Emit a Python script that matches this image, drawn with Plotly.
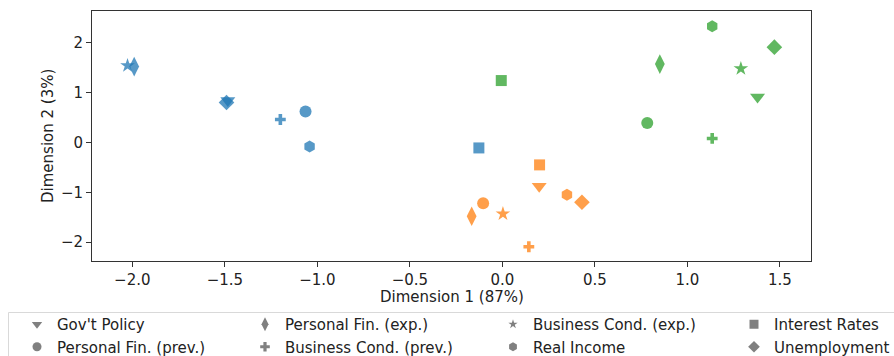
import plotly.graph_objects as go

# Survey item labels and their marker shapes
labels = ["Gov't Policy", "Personal Fin. (prev.)", "Personal Fin. (exp.)",
          "Business Cond. (prev.)", "Business Cond. (exp.)", "Real Income",
          "Interest Rates", "Unemployment"]
symbols = ["triangle-down", "circle", "diamond-tall", "cross", "star",
           "hexagon", "square", "diamond"]
sizes = [13, 12, 14, 9, 11, 12, 11, 12]

# Coordinates of each item in the three groups (same order as labels)
blue_x = [-1.484, -1.064, -1.990, -1.200, -2.026, -1.042, -0.127, -1.491]
blue_y = [0.84, 0.62, 1.52, 0.46, 1.54, -0.08, -0.11, 0.80]
orange_x = [0.199, -0.104, -0.166, 0.143, 0.003, 0.349, 0.201, 0.430]
orange_y = [-0.88, -1.22, -1.48, -2.09, -1.43, -1.05, -0.45, -1.20]
green_x = [1.379, 0.783, 0.851, 1.134, 1.289, 1.134, -0.006, 1.470]
green_y = [0.91, 0.39, 1.57, 0.08, 1.48, 2.33, 1.24, 1.91]

groups = [
    (blue_x, blue_y, "#1f77b4"),
    (orange_x, orange_y, "#ff7f0e"),
    (green_x, green_y, "#2ca02c"),
]

font = "DejaVu Sans"
fig = go.Figure()

for gx, gy, color in groups:
    fig.add_trace(go.Scatter(
        x=gx, y=gy, mode="markers", showlegend=False, hoverinfo="skip",
        marker=dict(symbol=symbols, size=sizes, color=color, opacity=0.75,
                    line=dict(width=0)),
    ))

# Shape-only legend, split into four two-item columns
col_x = [17, 245, 493, 734]
legend_names = ["legend", "legend2", "legend3", "legend4"]
legend_sizes = [9, 9, 10, 8, 7, 9, 9, 9]
for i, (lab, sym) in enumerate(zip(labels, symbols)):
    leg = legend_names[i // 2]
    fig.add_trace(go.Scatter(
        x=[None], y=[None], mode="markers", name=lab, legend=leg,
        marker=dict(symbol=sym, size=legend_sizes[i], color="#808080",
                    line=dict(width=0)),
        hoverinfo="skip",
    ))

leg_common = dict(xref="container", yref="container", xanchor="left",
                  yanchor="top", y=1 - 308 / 356, bgcolor="rgba(0,0,0,0)",
                  borderwidth=0, font=dict(family=font, size=15, color="#222"),
                  tracegroupgap=0, itemwidth=30, itemclick=False,
                  itemdoubleclick=False)
layout_legends = {}
for name, cx in zip(legend_names, col_x):
    layout_legends[name] = dict(x=cx / 894, **leg_common)

fig.update_layout(
    width=894, height=356,
    margin=dict(l=92, r=83, t=11, b=95, autoexpand=False),
    paper_bgcolor="white", plot_bgcolor="white",
    font=dict(family=font, size=15, color="#222"),
    **layout_legends,
)

axis_common = dict(
    showline=True, linecolor="#333", linewidth=1, mirror=True,
    ticks="outside", ticklen=5, tickcolor="#333", showgrid=False,
    zeroline=False, tickfont=dict(family=font, size=15, color="#222"),
    automargin=False,
)
fig.update_xaxes(range=[-2.218, 1.668], dtick=0.5, tick0=0, tickformat=".1f",
                 **axis_common)
fig.update_yaxes(range=[-2.376, 2.634], dtick=1, tick0=0, **axis_common)

# Axis titles
fig.add_annotation(text="Dimension 1 (87%)", xref="paper", yref="paper",
                   x=0.5, y=(261 - 297) / 250, xanchor="center",
                   yanchor="middle", showarrow=False,
                   font=dict(family=font, size=15, color="#222"))
fig.add_annotation(text="Dimension 2 (3%)", xref="paper", yref="paper",
                   x=(48 - 92) / 719, y=0.5, xanchor="center",
                   yanchor="middle", textangle=-90, showarrow=False,
                   font=dict(family=font, size=15, color="#222"))

# Legend frame
fig.add_shape(type="rect", xref="paper", yref="paper",
              x0=(8.5 - 92) / 719, x1=(905 - 92) / 719,
              y0=(261 - 360) / 250, y1=(261 - 312.5) / 250,
              line=dict(color="#d9d9d9", width=1), fillcolor="rgba(0,0,0,0)")

fig.write_html("out.html")
